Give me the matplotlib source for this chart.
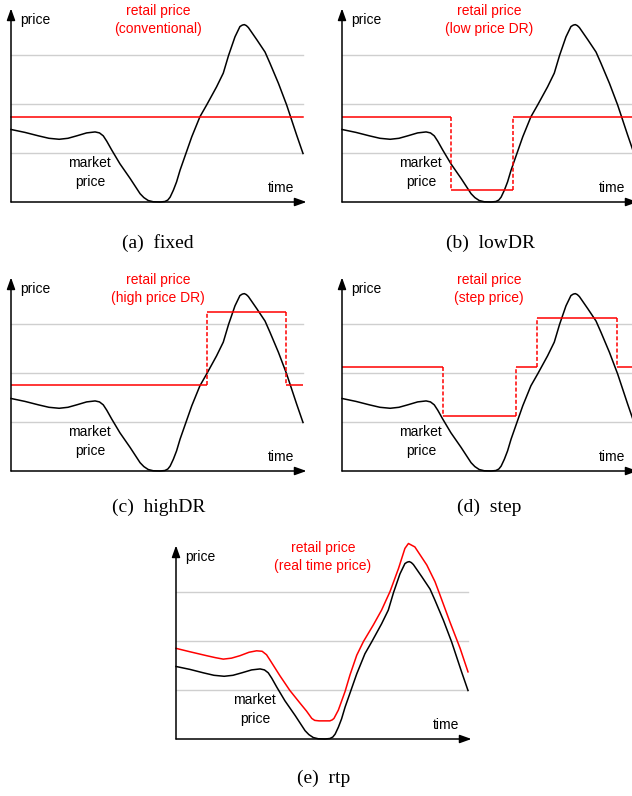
import matplotlib
matplotlib.use("Agg")
import matplotlib.pyplot as plt

# ---------------- data ----------------
# time axis normalised 0..1, price axis in grid units (gridlines at 1,2,3)
market_t = [0.000, 0.048, 0.094, 0.130, 0.165, 0.195, 0.225, 0.259, 0.288, 0.303,
            0.316, 0.328, 0.345, 0.373, 0.408, 0.442, 0.455, 0.470, 0.487, 0.510,
            0.527, 0.537, 0.545, 0.556, 0.567, 0.579, 0.599, 0.619, 0.647, 0.670,
            0.704, 0.727, 0.745, 0.767, 0.784, 0.792, 0.799, 0.806, 0.813, 0.842,
            0.870, 0.887, 0.916, 0.944, 0.978, 1.000]
market_v = [1.48, 1.42, 1.35, 1.30, 1.28, 1.30, 1.35, 1.41, 1.43, 1.41,
            1.35, 1.24, 1.06, 0.78, 0.48, 0.17, 0.09, 0.03, 0.005, 0.00,
            0.01, 0.04, 0.10, 0.24, 0.41, 0.65, 0.99, 1.33, 1.74, 1.98,
            2.35, 2.63, 2.99, 3.37, 3.58, 3.61, 3.62, 3.60, 3.56, 3.31,
            3.06, 2.83, 2.42, 1.98, 1.37, 0.99]

rtp_t = [0.000, 0.048, 0.105, 0.135, 0.162, 0.190, 0.219, 0.250, 0.276, 0.295,
         0.310, 0.322, 0.356, 0.390, 0.425, 0.447, 0.465, 0.475, 0.490, 0.527,
         0.535, 0.541, 0.556, 0.579, 0.596, 0.619, 0.642, 0.676, 0.704, 0.733,
         0.762, 0.784, 0.796, 0.818, 0.859, 0.887, 0.904, 0.938, 0.973, 1.000]
rtp_v = [1.85, 1.78, 1.70, 1.66, 1.63, 1.65, 1.70, 1.77, 1.80, 1.79,
         1.72, 1.61, 1.29, 0.99, 0.73, 0.57, 0.42, 0.38, 0.37, 0.37,
         0.39, 0.42, 0.59, 0.97, 1.31, 1.71, 1.99, 2.33, 2.63, 3.01,
         3.48, 3.89, 3.99, 3.92, 3.55, 3.21, 2.94, 2.39, 1.85, 1.37]

grid_levels = [1, 2, 3]

fixed_level = 1.74

lowdr_breaks = [0.0, 0.373, 0.586, 1.0]
lowdr_levels = [1.73, 0.245, 1.73]

highdr_breaks = [0.0, 0.671, 0.942, 1.0]
highdr_levels = [1.755, 3.24, 1.755]

step_breaks = [0.0, 0.346, 0.596, 0.668, 0.942, 1.0]
step_levels = [2.13, 1.13, 2.13, 3.12, 2.13]

titles = ["retail price\n(conventional)", "retail price\n(low price DR)",
          "retail price\n(high price DR)", "retail price\n(step price)",
          "retail price\n(real time price)"]
captions = ["(a)  fixed", "(b)  lowDR", "(c)  highDR", "(d)  step", "(e)  rtp"]

# ---------------- layout ----------------
W, H = 632, 796
fig = plt.figure(figsize=(W / 100, H / 100), dpi=100)
fig.patch.set_facecolor("white")

PX_W = 292      # pixels for time 0..1
PX_U = 49       # pixels per price unit
YMAX = 4.0

# (left px of y axis, px of x axis line, caption centre x px, caption centre y px)
panels = [(11, 202, 158, 243), (342, 202, 490, 243),
          (11, 471, 159, 507), (342, 471, 489, 507),
          (176, 739, 324, 778)]

SANS = ["Liberation Sans", "DejaVu Sans"]
SERIF = ["Liberation Serif", "DejaVu Serif"]
RED = "#ff0000"
GRID = "#cfcfcf"
LW = 1.1


def make_axes(x0, y0):
    ax = fig.add_axes([x0 / W, (H - y0) / H, PX_W / W, YMAX * PX_U / H])
    ax.set_xlim(0, 1)
    ax.set_ylim(0, YMAX)
    ax.axis("off")
    for g in grid_levels:
        ax.plot([0, 1], [g, g], color=GRID, lw=1.0, clip_on=False, zorder=1)
    ap = dict(arrowstyle="-|>,head_length=0.7,head_width=0.25", lw=LW,
              color="black", shrinkA=0, shrinkB=0)
    ax.annotate("", xy=(1.012, 0), xytext=(0, 0), arrowprops=ap,
                annotation_clip=False, zorder=5)
    ax.annotate("", xy=(0, 3.95), xytext=(0, 0), arrowprops=ap,
                annotation_clip=False, zorder=5)
    ax.plot(market_t, market_v, color="black", lw=LW, clip_on=False,
            zorder=3, solid_joinstyle="round")
    ax.text(0.031, 3.72, "price", family=SANS, fontsize=10, ha="left", va="center")
    ax.text(0.925, 0.28, "time", family=SANS, fontsize=10, ha="center", va="center")
    ax.text(0.27, 0.79, "market", family=SANS, fontsize=10, ha="center", va="center")
    ax.text(0.27, 0.41, "price", family=SANS, fontsize=10, ha="center", va="center")
    return ax


def draw_steps(ax, breaks, levels):
    for i, lev in enumerate(levels):
        ax.plot([breaks[i], breaks[i + 1]], [lev, lev], color=RED, lw=LW,
                clip_on=False, zorder=4, solid_capstyle="butt")
    for i in range(1, len(levels)):
        ax.plot([breaks[i], breaks[i]], [levels[i - 1], levels[i]], color=RED,
                lw=LW, dashes=(2.6, 1.4), clip_on=False, zorder=4)


for k, (x0, y0, cx, cy) in enumerate(panels):
    ax = make_axes(x0, y0)
    l1, l2 = titles[k].split("\n")
    ax.text(0.503, 3.90, l1, family=SANS, fontsize=10, color=RED,
            ha="center", va="center")
    ax.text(0.503, 3.53, l2, family=SANS, fontsize=10, color=RED,
            ha="center", va="center")
    if k == 0:
        ax.plot([0, 1], [fixed_level, fixed_level], color=RED, lw=LW,
                clip_on=False, zorder=4)
    elif k == 1:
        draw_steps(ax, lowdr_breaks, lowdr_levels)
    elif k == 2:
        draw_steps(ax, highdr_breaks, highdr_levels)
    elif k == 3:
        draw_steps(ax, step_breaks, step_levels)
    else:
        ax.plot(rtp_t, rtp_v, color=RED, lw=LW, clip_on=False, zorder=4,
                solid_joinstyle="round")
    fig.text(cx / W, 1 - cy / H, captions[k], family=SERIF, fontsize=14,
             ha="center", va="center")

fig.savefig("out.png", dpi=100, facecolor="white")
